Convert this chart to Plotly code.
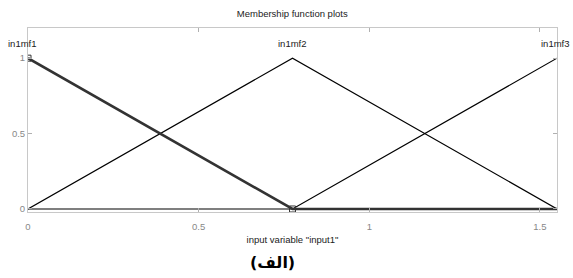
import plotly.graph_objects as go

# Membership functions (triangular), input range [0, 1.55]
mf_names = ["in1mf1", "in1mf2", "in1mf3"]
mf1_x = [0, 0.775, 1.55]
mf1_y = [1, 0, 0]
mf2_x = [0, 0.775, 1.55]
mf2_y = [0, 1, 0]
mf3_x = [0, 0.775, 1.55]
mf3_y = [0, 0, 1]
label_x = [0, 0.775, 1.55]
label_y = [1.1, 1.1, 1.1]
x_ticks = [0, 0.5, 1, 1.5]
x_tick_text = ["0", "0.5", "1", "1.5"]
y_ticks = [0, 0.5, 1]
y_tick_text = ["0", "0.5", "1"]

fig = go.Figure()
fig.add_trace(go.Scatter(x=mf2_x, y=mf2_y, mode="lines",
                         line=dict(color="black", width=1.2), showlegend=False))
fig.add_trace(go.Scatter(x=mf3_x, y=mf3_y, mode="lines",
                         line=dict(color="black", width=1.2), showlegend=False))
fig.add_trace(go.Scatter(x=mf1_x, y=mf1_y, mode="lines",
                         line=dict(color="#333333", width=2.6), showlegend=False))
fig.add_trace(go.Scatter(x=[mf1_x[0], mf1_x[1]], y=[mf1_y[0], mf1_y[1]], mode="markers",
                         marker=dict(symbol="square-open", size=6, color="#333333", line=dict(width=1)),
                         showlegend=False))

label_shift = [-6, 0, -2]
annotations = [dict(text=n, x=lx, y=ly, xref="x", yref="y", showarrow=False,
                    xanchor="center", yanchor="middle", xshift=s,
                    font=dict(family="Liberation Sans", size=9.5, color="#222222"))
               for n, lx, ly, s in zip(mf_names, label_x, label_y, label_shift)]
annotations.append(dict(text="<b>(الف)</b>", xref="paper", yref="paper", x=0.463, y=-0.272,
                        xanchor="center", yanchor="middle", showarrow=False,
                        font=dict(family="DejaVu Sans", size=16, color="black")))

axis_common = dict(showline=True, linecolor="#c8c8c8", linewidth=1, mirror="ticks",
                   ticks="inside", ticklen=4, tickcolor="#b0b0b0", showgrid=False,
                   zeroline=False, automargin=False,
                   tickfont=dict(family="Liberation Sans", size=9.5, color="#888888"))

fig.update_xaxes(range=[0, 1.55], tickvals=x_ticks, ticktext=x_tick_text, ticklabelstandoff=6,
                 title=dict(text='input variable "input1"', standoff=4,
                            font=dict(family="Liberation Sans", size=9.5, color="#222222")),
                 **axis_common)
fig.update_yaxes(range=[-0.02, 1.2], tickvals=y_ticks, ticktext=y_tick_text, **axis_common)

fig.update_layout(
    width=573, height=278,
    margin=dict(l=28, r=16, t=28, b=66, autoexpand=False),
    plot_bgcolor="white", paper_bgcolor="white",
    title=dict(text="Membership function plots", x=0.51, xanchor="center", y=0.95, yanchor="middle",
               font=dict(family="Liberation Sans", size=9.5, color="#222222")),
    annotations=annotations,
)

fig.write_html("out.html", config={"displayModeBar": False},
               post_script="document.body.style.margin='0';document.body.style.overflow='hidden';")
